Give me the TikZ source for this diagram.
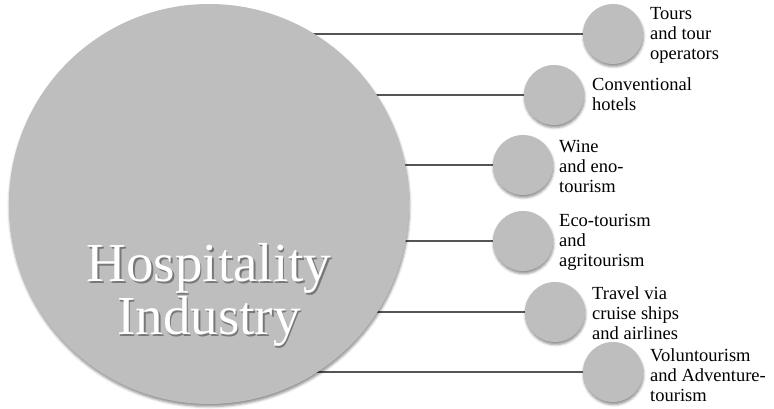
\documentclass[tikz,border=0pt]{standalone}
\usepackage{fontspec}
\setmainfont{Liberation Serif}
\usetikzlibrary{shadows.blur}
\pgfdeclarelayer{back}
\pgfsetlayers{back,main}
\definecolor{discfill}{RGB}{190,190,190}
\definecolor{linkgray}{RGB}{85,85,85}
\definecolor{textshade}{RGB}{120,120,120}
% white lettering with a dark offset copy underneath
\newcommand\embossed[1]{\makebox[0pt][l]{\hspace{1.6pt}\raisebox{-2.2pt}{\textcolor{textshade}{#1}}}\textcolor{white}{#1}}
\tikzset{
  disc/.style={circle, fill=discfill, draw=none, inner sep=0pt, outer sep=0pt,
    minimum size=#1,
    blur shadow={shadow xshift=0.5pt, shadow yshift=-2.5pt, shadow blur radius=2.5pt, shadow opacity=45}},
  link/.style={draw=linkgray, line width=1.1pt},
  label/.style={anchor=west, align=left, inner sep=0pt, text=black,
    font=\fontsize{18.5}{20}\selectfont},
  title/.style={align=center, inner sep=0pt,
    font=\fontsize{55}{48}\selectfont}
}
\begin{document}
\begin{tikzpicture}[x=1pt, y=-1pt]
\useasboundingbox (0,0) rectangle (774,408);

% central disc
\node[disc=400pt] (big) at (209,204) {};
\node[title] (title) at (209,296) {\embossed{Hospitality}\\\embossed{Industry}};

% satellite discs
\node[disc=60pt] (c1) at (613,34) {};
\node[disc=60pt] (c2) at (554,95) {};
\node[disc=60pt] (c3) at (523,165) {};
\node[disc=60pt] (c4) at (523,241) {};
\node[disc=60pt] (c5) at (555,312) {};
\node[disc=60pt] (c6) at (613,372) {};

% horizontal connectors, tucked behind the discs
\begin{pgfonlayer}{back}
\foreach \c in {c1,c2,c3,c4,c5,c6}
  \draw[link] (\c.center) -- (\c.center -| big.center);
\end{pgfonlayer}

% labels
\node[label] (l1) at (650,35) {Tours\\and tour\\operators};
\node[label] (l2) at (592,94) {Conventional\\hotels};
\node[label] (l3) at (559,166) {Wine\\and eno-\\tourism};
\node[label] (l4) at (559,242) {Eco-tourism\\and\\agritourism};
\node[label] (l5) at (592,313) {Travel via\\cruise ships\\and airlines};
\node[label] (l6) at (650,375) {Voluntourism\\and Adventure-\\tourism};
\end{tikzpicture}
\end{document}
